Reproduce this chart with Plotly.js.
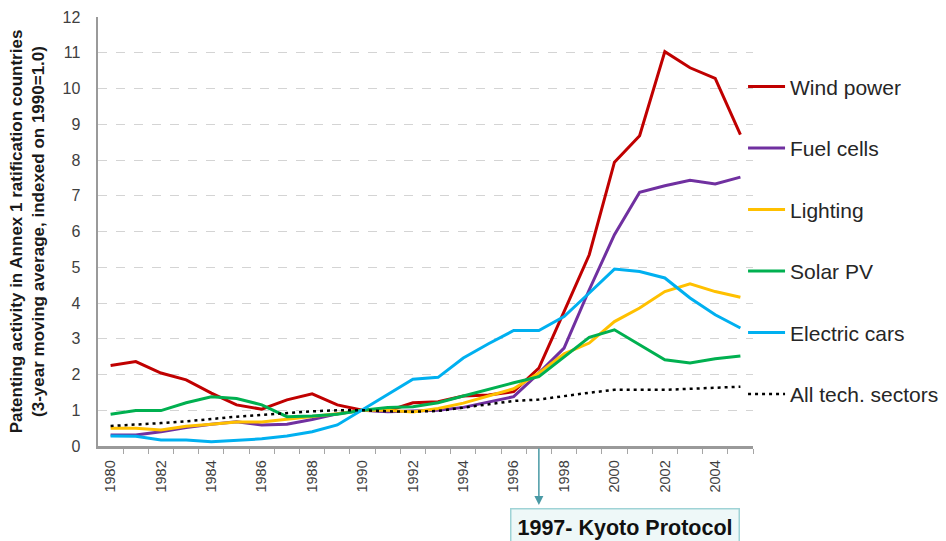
<!DOCTYPE html>
<html>
<head>
<meta charset="utf-8">
<script src="https://cdn.plot.ly/plotly-3.0.1.min.js"></script>
<style>html,body{margin:0;padding:0;background:#fff;}#chart{width:946px;height:541px;}</style>
</head>
<body>
<div id="chart"></div>
<script>
const years = [1980,1981,1982,1983,1984,1985,1986,1987,1988,1989,1990,1991,1992,1993,1994,1995,1996,1997,1998,1999,2000,2001,2002,2003,2004,2005];
const windPower    = [2.25,2.36,2.04,1.85,1.48,1.15,1.03,1.29,1.46,1.15,1.00,0.98,1.21,1.24,1.40,1.43,1.52,2.18,3.76,5.35,7.94,8.68,11.03,10.58,10.28,8.71];
const fuelCells    = [0.31,0.31,0.40,0.52,0.61,0.68,0.59,0.61,0.74,0.90,1.00,0.96,0.98,1.00,1.08,1.24,1.38,2.04,2.74,4.37,5.91,7.10,7.28,7.43,7.33,7.52];
const lighting     = [0.50,0.50,0.45,0.55,0.61,0.67,0.67,0.74,0.82,0.90,1.00,1.00,0.95,1.05,1.20,1.40,1.60,2.04,2.58,2.88,3.48,3.86,4.32,4.54,4.32,4.16];
const solarPV      = [0.89,0.99,0.99,1.21,1.38,1.33,1.15,0.82,0.84,0.89,1.00,1.08,1.10,1.21,1.40,1.59,1.77,1.94,2.50,3.04,3.25,2.83,2.41,2.32,2.44,2.52];
const electricCars = [0.28,0.27,0.17,0.17,0.12,0.17,0.20,0.28,0.40,0.59,1.01,1.43,1.87,1.92,2.46,2.86,3.23,3.23,3.62,4.28,4.95,4.88,4.70,4.14,3.67,3.30];
const allTech      = [0.56,0.59,0.64,0.69,0.76,0.82,0.87,0.93,0.97,1.00,1.00,0.97,0.96,0.98,1.07,1.17,1.26,1.30,1.40,1.49,1.57,1.57,1.57,1.60,1.64,1.66];
const seriesNames = ["Wind power","Fuel cells","Lighting","Solar PV","Electric cars","All tech. sectors"];
const tickYears = [1980,1982,1984,1986,1988,1990,1992,1994,1996,1998,2000,2002,2004];
const tickLabels = tickYears.map(String);
const kyotoYear = 1997;
const kyotoLabel = "1997- Kyoto Protocol";

const colors = ["#c00000","#7030a0","#ffc000","#00b050","#00b0f0","#000000"];
const values = [windPower,fuelCells,lighting,solarPV,electricCars,allTech];
const FONT = "Liberation Sans, Arial, sans-serif";

const traces = values.map((v,i)=>({
  x: years, y: v, type: "scatter", mode: "lines", name: seriesNames[i],
  legendgroup: "g"+i,
  line: {color: colors[i], width: i===5 ? 2.5 : 3, dash: i===5 ? "3px,4px" : "solid"},
  hoverinfo: "skip"
}));

const layout = {
  width: 946, height: 541,
  margin: {l: 98, r: 193, t: 17, b: 95, autoexpand: false},
  paper_bgcolor: "#ffffff", plot_bgcolor: "#ffffff",
  font: {family: FONT, color: "#404040"},
  showlegend: true,
  legend: {
    x: 0.9848, xanchor: "left", y: 0.885, yanchor: "top",
    font: {size: 21, family: FONT, color: "#262626"},
    itemwidth: 37,
    tracegroupgap: 31.2, bgcolor: "rgba(0,0,0,0)", borderwidth: 0
  },
  xaxis: {
    range: [1979.5, 2005.5], tickmode: "array", tickvals: tickYears, ticktext: tickLabels,
    tickangle: -90, tickfont: {size: 14.5, family: FONT, color: "#404040"},
    showline: true, linecolor: "#9a9a9a", linewidth: 2.5, showgrid: false, zeroline: false,
    ticks: "", ticklabelstandoff: 6,
    minor: {tickmode: "array", tickvals: years.map(y=>y+0.5), ticks: "outside", ticklen: 5, tickcolor: "#a6a6a6", tickwidth: 1, showgrid: false}
  },
  yaxis: {
    range: [0, 12], dtick: 1, tick0: 0,
    tickfont: {size: 16, family: FONT, color: "#404040"},
    showline: true, linecolor: "#9a9a9a", linewidth: 2.5,
    showgrid: true, gridcolor: "#d4d4d4", gridwidth: 1, griddash: "dash",
    zeroline: false, ticks: "", ticklabelstandoff: 12,
    title: {text: "Patenting activity in Annex 1 ratification countries<br>(3-year moving average, indexed on 1990=1.0)",
            font: {size: 17, family: FONT, color: "#1a1a1a", weight: "bold"}, standoff: 14}
  },
  annotations: [
    {x: kyotoYear, xref: "x", y: -0.1375, yref: "paper", text: "", showarrow: true,
     ax: 0, ay: -58, arrowcolor: "#4a9aa5", arrowwidth: 1.5, arrowhead: 2, arrowsize: 1.2, standoff: 0},
    {x: kyotoYear, xref: "x", xanchor: "left", xshift: -29, y: -0.1445, yref: "paper", yanchor: "top",
     text: "<b>" + kyotoLabel + "</b>", showarrow: false,
     font: {size: 21.5, family: FONT, color: "#111111"},
     bgcolor: "#eef8f8", bordercolor: "#9fd3d6", borderwidth: 1.5, borderpad: 6}
  ]
};

Plotly.newPlot("chart", traces, layout, {displayModeBar: false, staticPlot: true});
</script>
</body>
</html>
